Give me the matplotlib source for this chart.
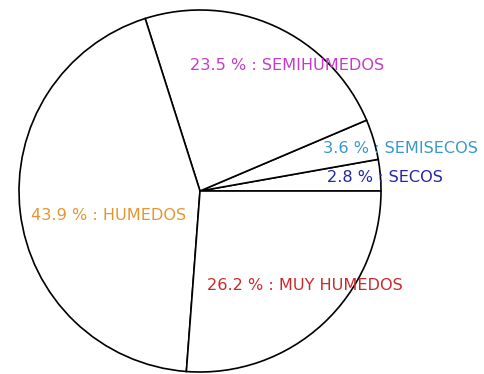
import matplotlib.pyplot as plt

categories = ["SECOS", "SEMISECOS", "SEMIHUMEDOS", "HUMEDOS", "MUY HUMEDOS"]
percents = [2.8, 3.6, 23.5, 43.9, 26.2]
colors = ["#2525a8", "#3a98cc", "#c43cc8", "#e6962e", "#cc2a2a"]

# label centres in pixel coordinates (x, y from top)
label_pos = [(385, 177), (400, 148), (287, 65), (109, 215), (305, 286)]

W, H = 485, 374
fig = plt.figure(figsize=(W / 100, H / 100), dpi=100)
ax = fig.add_axes([0, 0, 1, 1])

cx, cy, r = 200, H - 191, 181
ax.pie(percents, startangle=0, counterclock=True, center=(cx, cy), radius=r,
       colors=["white"] * len(percents),
       wedgeprops=dict(edgecolor="black", linewidth=1.2), frame=True)

for cat, p, c, (x, y) in zip(categories, percents, colors, label_pos):
    ax.text(x, H - y, f"{p} % : {cat}", color=c, fontsize=11.6,
            ha="center", va="center", family="DejaVu Sans")

ax.set_xlim(0, W)
ax.set_ylim(0, H)
ax.set_aspect("equal")
ax.axis("off")
fig.savefig("out.png", dpi=100)
